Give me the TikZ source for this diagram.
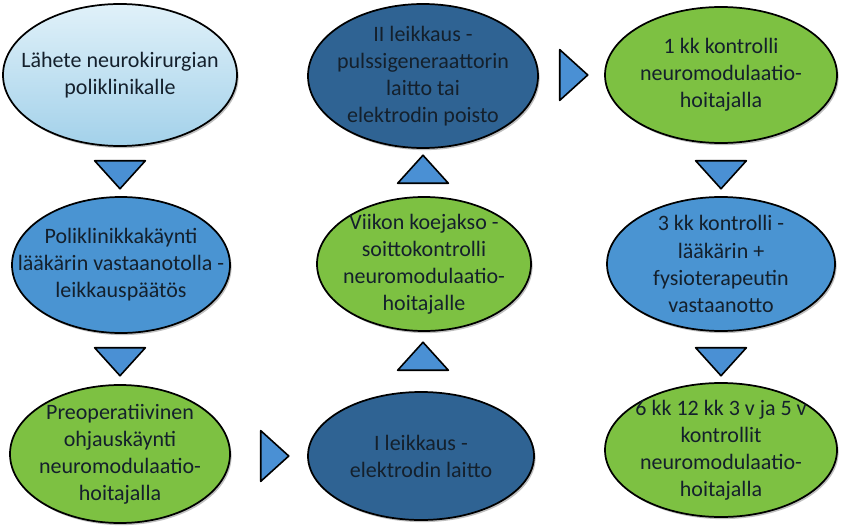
\documentclass[tikz,border=0pt]{standalone}
\usepackage{fontspec}
\setmainfont{Carlito}
\usepackage{xcolor}
\usepackage{tikz}
\usetikzlibrary{shapes.geometric,shadows}
\definecolor{palevast}{HTML}{E0F1F9}
\definecolor{palevasb}{HTML}{A3D1EA}
\definecolor{midblue}{HTML}{4A94D2}
\definecolor{deepblue}{HTML}{2F6393}
\definecolor{leafgreen}{HTML}{7DC142}
\definecolor{arrowblue}{HTML}{4A90D4}
\definecolor{inktext}{HTML}{14202C}
\tikzset{
  phase/.style={ellipse, draw=black, line width=1.3pt, inner sep=0pt,
                drop shadow={shadow xshift=1.2pt, shadow yshift=-1.6pt, opacity=0.5}},
  txt/.style={align=center, text=inktext, font=\fontsize{16.5}{20.3}\selectfont},
  tri/.style={isosceles triangle, isosceles triangle stretches, draw=black,
              line width=1.2pt, line join=round, fill=arrowblue, inner sep=0pt,
              minimum height=21pt, minimum width=38pt}
}

\begin{document}
\begin{tikzpicture}[x=0.75pt, y=-0.75pt]
\useasboundingbox (0,0) rectangle (841,531);
% ---- column 1 ----
\node[phase, top color=palevast, bottom color=palevasb, minimum width=175.5pt, minimum height=106.5pt,
      label={[txt]center:Lähete neurokirurgian\\poliklinikalle}] (a1) at (120,75) {};
\node[phase, fill=midblue, minimum width=163.5pt, minimum height=102pt,
      label={[txt]center:Poliklinikkakäynti\\lääkärin vastaanotolla -\\leikkauspäätös}] (a2) at (121,265) {};
\node[phase, fill=leafgreen, minimum width=165pt, minimum height=103.5pt,
      label={[txt]center:Preoperatiivinen\\ohjauskäynti\\neuromodulaatio-\\hoitajalla}] (a3) at (120,454) {};
% ---- column 2 ----
\node[phase, fill=deepblue, minimum width=169.5pt, minimum height=96pt,
      label={[txt]center:I leikkaus -\\elektrodin laitto}] (b3) at (421,456) {};
\node[phase, fill=leafgreen, minimum width=160.5pt, minimum height=100.5pt,
      label={[txt]center:Viikon koejakso -\\soittokontrolli\\neuromodulaatio-\\hoitajalle}] (b2) at (424,264) {};
\node[phase, fill=deepblue, minimum width=172.5pt, minimum height=108pt,
      label={[txt]center:II leikkaus -\\pulssigeneraattorin\\laitto tai\\elektrodin poisto}] (b1) at (423,76) {};
% ---- column 3 ----
\node[phase, fill=leafgreen, minimum width=174pt, minimum height=102pt,
      label={[txt]center:1 kk kontrolli\\neuromodulaatio-\\hoitajalla}] (c1) at (721,75) {};
\node[phase, fill=midblue, minimum width=171pt, minimum height=100.5pt,
      label={[txt]center:3 kk kontrolli -\\lääkärin +\\fysioterapeutin\\vastaanotto}] (c2) at (721,264) {};
\node[phase, fill=leafgreen, minimum width=174pt, minimum height=100.5pt,
      label={[txt]center:6 kk 12 kk 3 v ja 5 v\\kontrollit\\neuromodulaatio-\\hoitajalla}] (c3) at (721,450) {};
% ---- triangle arrows ----
\node[tri, rotate=-90] (t12) at (120,172) {};
\node[tri, rotate=-90] (t23) at (120,359) {};
\node[tri] (t3b) at (272,456) {};
\node[tri, rotate=90] (tb32) at (423,359) {};
\node[tri, rotate=90] (tb21) at (423,172) {};
\node[tri] (tbc) at (571,75) {};
\node[tri, rotate=-90] (tc12) at (721,172) {};
\node[tri, rotate=-90] (tc23) at (721,359) {};
\end{tikzpicture}
\end{document}
